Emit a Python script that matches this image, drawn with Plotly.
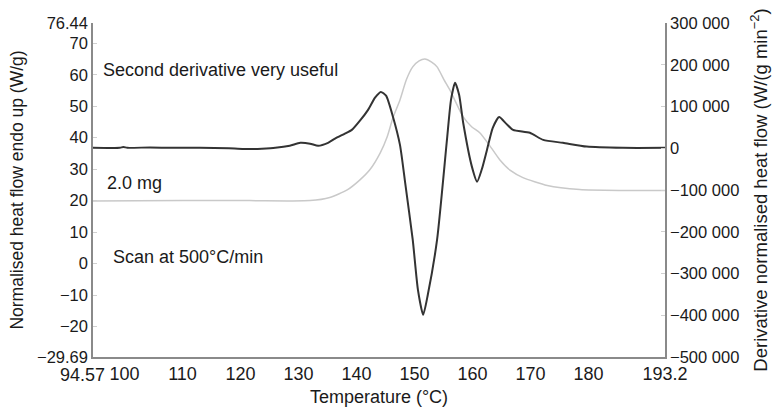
import plotly.graph_objects as go

# Normalised heat flow (left axis), W/g
hf_temp = [94.57, 110.0, 121.6, 132.0, 135.4, 138.4, 140.6, 142.3, 144.1, 145.3,
           146.3, 147.5, 148.6, 149.7, 150.8, 151.8, 152.9, 153.9, 155.1, 156.1,
           158.4, 159.9, 161.3, 163.0, 164.7, 166.6, 168.7, 172.9, 178.5, 185.4,
           193.2]
hf_value = [19.9, 20.0, 20.0, 20.0, 21.0, 23.4, 26.6, 29.8, 35.2, 40.3,
            46.4, 52.0, 58.4, 62.5, 64.4, 65.0, 64.1, 62.5, 58.4, 55.2,
            46.6, 43.4, 41.5, 37.4, 33.0, 29.5, 27.3, 24.8, 23.5, 23.2,
            23.2]

# Derivative of normalised heat flow (right axis), W/(g min^-2)
dv_temp = [94.57, 99.2, 99.8, 100.5, 104.4, 108.0, 113.0, 118.0, 121.6, 123.7,
           126.0, 128.5, 130.3, 132.0, 133.4, 135.1, 136.3, 138.0, 139.2, 140.6,
           142.0, 143.2, 144.2, 145.1, 146.3, 147.5, 148.4, 149.7, 150.6, 151.5,
           152.3, 153.9, 155.6, 156.3, 157.0, 157.7, 158.4, 159.9, 160.8, 161.6,
           162.5, 163.5, 164.6, 165.8, 167.0, 169.9, 172.2, 175.6, 179.7, 185.9,
           193.2]
dv_value = [1000, 1000, 3000, 1000, 2000, 1000, 1000, 0, -2000, -1000,
            1000, 6000, 13000, 11000, 6000, 13000, 23000, 35000, 44000, 66000,
            92000, 121000, 135000, 126000, 75000, 8000, -83000, -219000, -339000, -399000,
            -351000, -219000, 20000, 116000, 157000, 128000, 61000, -44000, -80000, -51000,
            -4000, 49000, 75000, 59000, 44000, 37000, 20000, 13000, 4000, 1000,
            1000]

x_ticks = [94.57, 100, 110, 120, 130, 140, 150, 160, 170, 180, 193.2]
x_ticktext = ["94.57", "100", "110", "120", "130", "140", "150", "160", "170", "180", "193.2"]
y_ticks = [-29.69, -20, -10, 0, 10, 20, 30, 40, 50, 60, 70, 76.44]
y_ticktext = ["\u221229.69", "\u221220", "\u221210", "0", "10", "20", "30", "40", "50", "60", "70", "76.44"]
y2_ticks = [-500000, -400000, -300000, -200000, -100000, 0, 100000, 200000, 300000]
y2_ticktext = ["\u2212500 000", "\u2212400 000", "\u2212300 000", "\u2212200 000", "\u2212100 000",
               "0", "100 000", "200 000", "300 000"]

FONT = "Liberation Sans, Arial, sans-serif"
AXIS_GREY = "#8a8a8a"
TEXT = "#1a1a1a"

fig = go.Figure()
fig.add_trace(go.Scatter(x=hf_temp, y=hf_value, mode="lines",
                         line=dict(color="#c9c9c9", width=1.5, shape="spline", smoothing=0.6),
                         yaxis="y", showlegend=False))
fig.add_trace(go.Scatter(x=dv_temp, y=dv_value, mode="lines",
                         line=dict(color="#333333", width=2, shape="spline", smoothing=0.6),
                         yaxis="y2", showlegend=False))

# The range-start label sits left of its tick so it clears "100";
# it is drawn as an annotation and left blank in the tick labels.
x_ticktext_drawn = [""] + x_ticktext[1:]

fig.update_layout(
    width=775, height=410,
    margin=dict(l=93, r=110, t=23, b=53, autoexpand=False),
    paper_bgcolor="white", plot_bgcolor="white",
    font=dict(family=FONT, size=16, color=TEXT),
    xaxis=dict(range=[94.57, 193.2], tickvals=x_ticks, ticktext=x_ticktext_drawn,
               tickangle=0, tickfont=dict(size=18),
               showline=True, linecolor=AXIS_GREY, linewidth=1.5,
               ticks="", showgrid=False, zeroline=False, automargin=False,
               title=dict(text="Temperature (\u00b0C)", font=dict(size=18), standoff=7)),
    yaxis=dict(range=[-29.69, 76.44], tickvals=y_ticks, ticktext=y_ticktext,
               tickfont=dict(size=16.5),
               showline=True, linecolor=AXIS_GREY, linewidth=1.5,
               ticks="inside", ticklen=4, tickcolor="#d0d0d0",
               showgrid=False, zeroline=False, automargin=False,
               title=dict(text="Normalised heat flow endo up (W/g)", font=dict(size=17.5), standoff=9)),
    yaxis2=dict(range=[-500000, 300000], tickvals=y2_ticks, ticktext=y2_ticktext,
                tickfont=dict(size=16.5),
                overlaying="y", side="right",
                showline=True, linecolor=AXIS_GREY, linewidth=1.5,
                ticks="inside", ticklen=4, tickcolor="#d0d0d0",
                showgrid=False, zeroline=False, automargin=False,
                title=dict(text="Derivative normalised heat flow (W/(g min<sup>\u22122</sup>)",
                           font=dict(size=18.5), standoff=16)),
)

fig.add_annotation(text=x_ticktext[0], xref="paper", yref="paper", x=0, y=0,
                   xanchor="center", yanchor="middle", xshift=-11, yshift=-18,
                   showarrow=False, font=dict(size=18, color=TEXT))

notes = [
    ("Second derivative very useful", 101, 70),
    ("2.0 mg", 105, 183),
    ("Scan at 500\u00b0C/min", 111, 257),
]
for text, xpix, ypix in notes:
    fig.add_annotation(text=text, xref="paper", yref="paper",
                       x=(xpix - 93) / 572, y=1 - (ypix - 23) / 334,
                       xanchor="left", yanchor="middle",
                       showarrow=False, font=dict(size=18, color=TEXT))

fig.write_html("out.html")
